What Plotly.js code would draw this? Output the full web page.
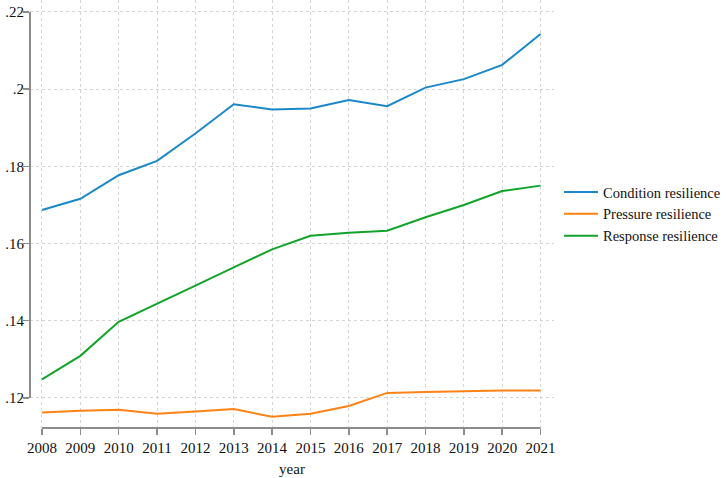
<!DOCTYPE html>
<html>
<head>
<meta charset="utf-8">
<script src="https://cdn.plot.ly/plotly-3.0.1.min.js"></script>
<style>html,body{margin:0;padding:0;background:#fff;}#chart{width:726px;height:478px;}</style>
</head>
<body>
<div id="chart"></div>
<script>
var years = [2008, 2009, 2010, 2011, 2012, 2013, 2014, 2015, 2016, 2017, 2018, 2019, 2020, 2021];
var condition = [0.1687, 0.1716, 0.1777, 0.1814, 0.1885, 0.1961, 0.1947, 0.1950, 0.1972, 0.1956, 0.2004, 0.2026, 0.2063, 0.2143];
var pressure = [0.1162, 0.1167, 0.1169, 0.1159, 0.1165, 0.1171, 0.1151, 0.1159, 0.1179, 0.1213, 0.1215, 0.1217, 0.1219, 0.1219];
var response = [0.1248, 0.1309, 0.1397, 0.1443, 0.1491, 0.1538, 0.1585, 0.1620, 0.1628, 0.1633, 0.1668, 0.1700, 0.1736, 0.1750];
var seriesNames = ["Condition resilience", "Pressure resilience", "Response resilience"];
var yTickVals = [0.12, 0.14, 0.16, 0.18, 0.20, 0.22];
var yTickText = [".12", ".14", ".16", ".18", ".2", ".22"];
var xTitle = "year";

var colors = ["#1a87c9", "#ff8214", "#12a32a"];
var font = "Liberation Serif, Times New Roman, serif";

var traces = [condition, pressure, response].map(function (vals, i) {
  return {
    x: years, y: vals, type: "scatter", mode: "lines", name: seriesNames[i],
    line: {color: colors[i], width: 2}
  };
});

var axisColor = "#8c8c8c";
var layout = {
  width: 726, height: 478,
  margin: {l: 30, r: 171, t: 0, b: 50},
  paper_bgcolor: "#fff", plot_bgcolor: "#fff",
  font: {family: font, size: 15, color: "#111"},
  showlegend: true,
  legend: {x: 1.01, y: 0.5, xanchor: "left", yanchor: "middle", font: {family: font, size: 14.5, color: "#111"}, tracegroupgap: 0, itemwidth: 34, bgcolor: "rgba(0,0,0,0)"},
  xaxis: {
    range: [years[0] - 0.3125, years[years.length - 1] + 0.35],
    tickvals: years, ticktext: years.map(String),
    showgrid: true, gridcolor: "#d4d4d4", griddash: "dot", gridwidth: 1,
    zeroline: false, showline: false,
    ticks: "outside", ticklen: 6, tickcolor: axisColor, tickwidth: 1.5,
    tickfont: {family: font, size: 15, color: "#111"},
    title: {text: xTitle, font: {family: font, size: 15, color: "#111"}, standoff: 8}
  },
  yaxis: {
    range: [0.1122, 0.2231],
    tickvals: yTickVals, ticktext: yTickText,
    showgrid: true, gridcolor: "#d4d4d4", griddash: "dot", gridwidth: 1,
    zeroline: false, showline: false,
    ticks: "outside", ticklen: 6, tickcolor: axisColor, tickwidth: 1.5,
    ticklabelstandoff: -4,
    tickfont: {family: font, size: 15, color: "#111"}
  },
  shapes: [
    {type: "line", xref: "x", yref: "paper", x0: years[0], x1: years[years.length - 1], y0: 0, y1: 0, line: {color: axisColor, width: 2}},
    {type: "line", xref: "paper", yref: "y", x0: 0, x1: 0, y0: yTickVals[0], y1: yTickVals[yTickVals.length - 1], line: {color: axisColor, width: 2}}
  ]
};

Plotly.newPlot("chart", traces, layout, {displayModeBar: false, staticPlot: true});
</script>
</body>
</html>
